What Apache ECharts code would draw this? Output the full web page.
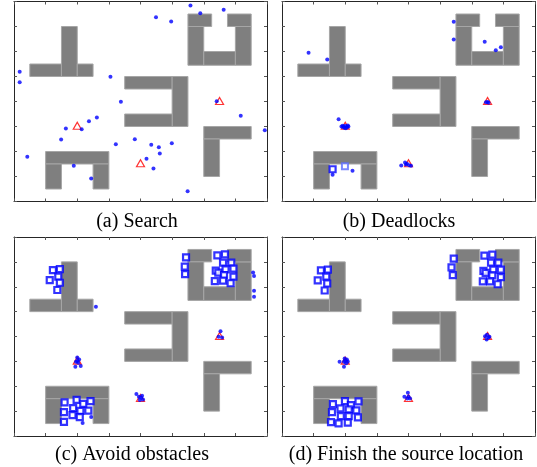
<!DOCTYPE html>
<html><head><meta charset="utf-8">
<script src="https://cdn.jsdelivr.net/npm/echarts@6/dist/echarts.min.js"></script>
<style>html,body{margin:0;padding:0;background:#fff}#c{width:537px;height:467px}</style>
</head><body><div id="c"></div>
<script>
// ---- data (map units 0..8 x 0..8) ----
const panelTitles = ['(a) Search', '(b) Deadlocks', '(c) Avoid obstacles', '(d) Finish the source location'];
const axisTicks = [0, 1, 2, 3, 4, 5, 6, 7, 8];

// obstacles: [x0, y0, x1, y1]
const obstacles = [
  [0.5, 5.0, 1.5, 5.5], [1.5, 5.0, 2.0, 7.0], [2.0, 5.0, 2.5, 5.5],           // T shape
  [5.5, 7.0, 6.25, 7.5], [5.5, 5.45, 6.0, 7.0], [6.0, 5.45, 7.0, 6.0],
  [7.0, 5.45, 7.5, 7.0], [6.75, 7.0, 7.5, 7.5],                                // U shape
  [3.5, 4.5, 5.0, 5.0], [5.0, 3.0, 5.5, 5.0], [3.5, 3.0, 5.0, 3.5],           // C shape
  [6.0, 2.5, 7.5, 3.0], [6.0, 1.0, 6.5, 2.5],                                  // L shape
  [1.0, 1.5, 3.0, 2.0], [1.0, 0.5, 1.5, 1.5], [2.5, 0.5, 3.0, 1.5]            // arch
];
const sources = [[2.0, 3.03], [4.0, 1.53], [6.5, 4.02]];

const searchDots = [
  [5.58, 7.84], [5.89, 7.53], [6.63, 7.67], [4.49, 7.37], [4.97, 7.2], [0.18, 5.19], [0.18, 4.77],
  [3.05, 4.99], [3.38, 3.99], [6.41, 4.01], [7.17, 3.43], [7.93, 2.85], [2.62, 3.36], [2.37, 3.21],
  [1.64, 2.92], [2.14, 2.89], [1.49, 2.48], [3.22, 2.29], [3.82, 2.49], [4.34, 2.27], [4.58, 2.17],
  [4.99, 2.33], [4.61, 1.92], [4.19, 1.71], [4.41, 1.32], [0.42, 1.79], [1.89, 1.43], [2.44, 0.92],
  [5.49, 0.41]
];

const deadlockDots = [
  [0.84, 5.95], [1.43, 5.68], [5.43, 7.19], [5.43, 6.48], [6.41, 6.39], [6.76, 6.05], [6.92, 6.17],
  [1.79, 3.29], [1.88, 3.0], [1.94, 2.98], [2.0, 3.02], [2.05, 2.97], [2.1, 3.0], [1.97, 2.95],
  [2.08, 3.04], [2.02, 2.93], [1.92, 3.03], [6.45, 3.97], [6.5, 3.98], [6.53, 3.95],
  [3.77, 1.44], [3.89, 1.56], [3.95, 1.51], [4.02, 1.45], [4.08, 1.43], [3.92, 1.48],
  [1.6, 1.07], [2.23, 1.23]
];
const deadlockSquares = [[1.6, 1.29]];
const deadlockSquaresFaded = [[1.99, 1.41]];

const avoidDots = [
  [2.0, 3.16], [2.06, 3.08], [1.96, 2.98], [2.03, 2.94], [2.11, 2.81], [1.94, 2.78], [2.0, 3.02],
  [3.87, 1.69], [3.95, 1.58], [4.02, 1.54], [4.08, 1.47], [3.98, 1.45], [4.05, 1.62],
  [6.53, 4.21], [6.58, 3.96], [6.47, 3.99],
  [7.56, 6.57], [7.59, 6.43], [7.59, 5.84], [7.59, 5.60], [2.59, 5.2], [2.17, 0.52], [2.44, 0.76]
];
const avoidSquares = [
  [1.23, 6.67], [1.45, 6.71], [1.13, 6.27], [1.40, 6.41], [1.45, 6.16], [1.37, 5.87],
  [5.44, 7.18], [5.40, 6.81], [5.41, 6.51], [6.43, 7.26], [6.67, 7.30], [6.61, 6.97], [6.87, 6.97],
  [6.38, 6.65], [6.46, 6.57], [6.69, 6.70], [6.94, 6.73], [6.64, 6.47], [6.94, 6.41], [6.35, 6.23],
  [6.61, 6.25], [6.85, 6.14],
  [1.60, 1.35], [1.98, 1.45], [2.19, 1.29], [2.42, 1.40], [1.87, 1.12], [1.58, 0.96], [1.85, 0.84],
  [2.10, 1.01], [2.35, 1.02], [2.08, 0.76], [1.58, 0.57]
];

const finishDots = [
  [1.98, 3.12], [2.05, 3.08], [1.96, 2.98], [2.03, 2.92], [1.82, 2.98], [1.96, 2.78], [2.08, 3.0], [2.0, 3.02],
  [6.42, 4.01], [6.48, 4.07], [6.53, 3.96], [6.47, 3.88], [6.56, 3.99],
  [3.98, 1.74], [3.87, 1.58], [4.0, 1.58], [4.05, 1.51], [3.96, 1.51]
];
const finishSquares = [
  [1.23, 6.66], [1.45, 6.69], [1.13, 6.26], [1.40, 6.41], [1.43, 6.13], [1.35, 5.85],
  [5.43, 7.13], [5.36, 6.78], [5.40, 6.47], [6.40, 7.25], [6.65, 7.29], [6.61, 6.97], [6.84, 6.97],
  [6.37, 6.64], [6.44, 6.56], [6.68, 6.69], [6.92, 6.69], [6.65, 6.46], [6.92, 6.39], [6.35, 6.22],
  [6.58, 6.22], [6.82, 6.10],
  [1.61, 1.28], [1.99, 1.40], [2.18, 1.24], [2.42, 1.39], [1.58, 0.96], [1.85, 1.11], [2.11, 1.07],
  [2.35, 1.03], [1.86, 0.80], [2.11, 0.80], [2.40, 0.75], [1.55, 0.56], [1.79, 0.51], [2.08, 0.54]
];

// ---- layout ----
const grids = [
  {left: 14, top: 1.5, width: 253, height: 200},
  {left: 282, top: 1.5, width: 253, height: 200},
  {left: 14, top: 237, width: 253, height: 199},
  {left: 282, top: 237, width: 253, height: 199}
];
const titlePos = [[137, 222], [399, 222], [132, 455], [406, 455]];

const panels = [
  {dots: searchDots, squares: [], faded: []},
  {dots: deadlockDots, squares: deadlockSquares, faded: deadlockSquaresFaded},
  {dots: avoidDots, squares: avoidSquares, faded: []},
  {dots: finishDots, squares: finishSquares, faded: []}
];

function axis(gridIndex, position) {
  return {
    type: 'value', gridIndex, position, min: axisTicks[0], max: axisTicks[axisTicks.length - 1], interval: 1,
    axisLabel: {show: false}, splitLine: {show: false},
    axisLine: {show: true, onZero: false, lineStyle: {color: '#262626', width: 1}},
    axisTick: {show: true, inside: true, length: 3, lineStyle: {color: '#555', width: 1}}
  };
}

const xAxis = [], yAxis = [], series = [], graphic = [];
panels.forEach((p, i) => {
  xAxis.push(axis(i, 'bottom'), axis(i, 'top'));
  yAxis.push(axis(i, 'left'), axis(i, 'right'));
  const xi = 2 * i, yi = 2 * i;
  series.push({
    type: 'custom', xAxisIndex: xi, yAxisIndex: yi, silent: true, z: 1,
    dimensions: ['x0', 'y0', 'x1', 'y1'], encode: {x: [0, 2], y: [1, 3]},
    data: obstacles,
    renderItem: function (params, api) {
      const a = api.coord([api.value(0), api.value(3)]);
      const b = api.coord([api.value(2), api.value(1)]);
      return {
        type: 'rect',
        shape: {x: a[0], y: a[1], width: b[0] - a[0], height: b[1] - a[1]},
        style: {fill: '#7f7f7f', stroke: '#a6a6a6', lineWidth: 1}
      };
    }
  });
  series.push({
    type: 'scatter', xAxisIndex: xi, yAxisIndex: yi, z: 2, silent: true,
    symbol: 'triangle', symbolSize: [8, 7], data: sources,
    itemStyle: {color: 'rgba(0,0,0,0)', borderColor: '#ff0000', borderWidth: 1.2}
  });
  series.push({
    type: 'scatter', xAxisIndex: xi, yAxisIndex: yi, z: 3, silent: true,
    symbol: 'circle', symbolSize: 4, data: p.dots,
    itemStyle: {color: '#0000ff'}
  });
  series.push({
    type: 'scatter', xAxisIndex: xi, yAxisIndex: yi, z: 4, silent: true,
    symbol: 'rect', symbolSize: 6, data: p.faded,
    itemStyle: {color: '#ffffff', borderColor: '#5a6cff', borderWidth: 2}
  });
  series.push({
    type: 'scatter', xAxisIndex: xi, yAxisIndex: yi, z: 5, silent: true,
    symbol: 'rect', symbolSize: 6, data: p.squares,
    itemStyle: {color: '#ffffff', borderColor: '#0000ff', borderWidth: 2.2}
  });
  graphic.push({
    type: 'text', x: titlePos[i][0], y: titlePos[i][1],
    style: {text: panelTitles[i], font: '20px "Liberation Serif"', fill: '#000', align: 'center', verticalAlign: 'middle'}
  });
});

const chart = echarts.init(document.getElementById('c'), null, {renderer: 'canvas'});
chart.setOption({
  animation: false,
  backgroundColor: '#fff',
  grid: grids,
  xAxis, yAxis, series, graphic
});
</script>
</body></html>
